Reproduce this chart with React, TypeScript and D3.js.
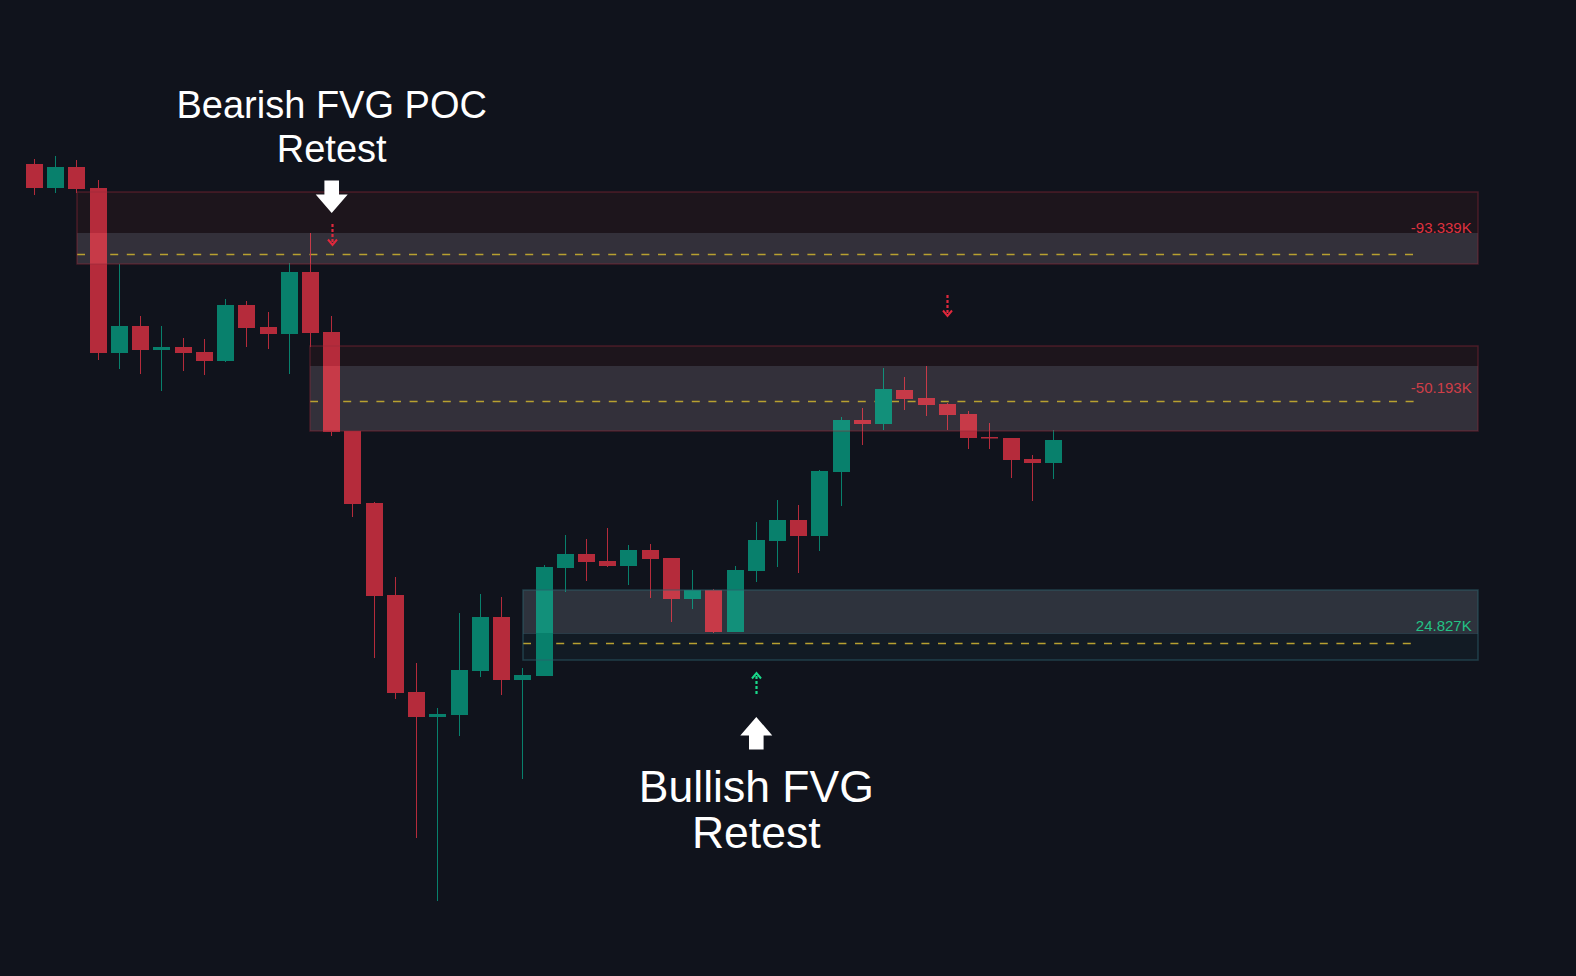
import React from 'react';
import * as d3 from 'd3';

// OHLC values (price units), one per candle
const opens = [836, 812, 833, 812, 647, 674, 650, 653, 648, 639, 695, 673, 666, 728, 668, 569, 497, 405, 308, 283, 285, 329, 383, 320, 324, 432, 446, 439, 434, 450, 442, 401, 410, 368, 429, 459, 480, 464, 528, 580, 576, 610, 602, 596, 586, 563, 562, 541, 537];
const highs = [841, 844, 840, 820, 736, 684, 674, 662, 661, 701, 699, 688, 737, 767, 684, 569, 498, 423, 337, 292, 387, 406, 403, 332, 435, 465, 461, 472, 455, 456, 442, 430, 411, 434, 478, 500, 495, 530, 583, 592, 632, 623, 634, 597, 589, 577, 562, 545, 570];
const lows = [805, 807, 807, 640, 631, 626, 609, 629, 625, 638, 653, 651, 626, 653, 564, 483, 342, 301, 162, 99, 264, 323, 305, 221, 324, 408, 419, 433, 415, 402, 378, 391, 367, 368, 418, 433, 427, 449, 494, 555, 570, 590, 584, 570, 551, 551, 522, 499, 521];
const closes = [812, 833, 811, 647, 674, 650, 653, 647, 639, 695, 672, 666, 728, 667, 568, 496, 404, 307, 283, 286, 330, 383, 320, 325, 433, 446, 438, 434, 450, 441, 401, 410, 368, 430, 460, 480, 464, 529, 580, 576, 611, 601, 595, 585, 562, 562, 540, 537, 560];

// FVG zones
const zoneTypes = ['bear', 'bear', 'bull'];
const zoneStarts = [2, 13, 23];
const zoneTops = [808, 654, 410];
const zoneBottoms = [736, 569, 340];
const zoneInnerTops = [767, 634, 410];
const zoneInnerBottoms = [736, 569, 367];
const zonePocs = [746, 599, 357];
const zoneLabels = ['-93.339K', '-50.193K', '24.827K'];
const zoneLabelPrices = [767, 607, 369];
const zoneEnd = 68;
const pocEnd = 65;
const labelIndex = 67.7;

// small dotted markers
const markerIdx = [14, 43, 34];
const markerTip = [755, 684, 327];
const markerDir = ['down', 'down', 'up'];

// annotations
const annoLines = [['Bearish FVG POC', 'Retest'], ['Bullish FVG', 'Retest']];
const annoIdx = [14, 34];
const annoArrowTip = [787, 283];
const annoDir = ['down', 'up'];
const annoBaselines = [[882, 838], [198, 152]];

const W = 1576;
const H = 976;
const BG = '#10131c';
const RED = '#b52b3b';
const GREEN = '#08806c';
const RED_HI = '#c73a48';
const GREEN_HI = '#12907a';

export default function App() {
  const x = d3.scaleLinear().domain([0, 48]).range([34.5, 1053.5]);
  const y = d3.scaleLinear().domain([0, 1000]).range([1000, 0]);
  const bodyW = 17;

  const drawCandles = (hi: boolean) =>
    opens.map((o, i) => {
      const c = closes[i];
      const up = c >= o;
      const col = up ? (hi ? GREEN_HI : GREEN) : hi ? RED_HI : RED;
      const bx = Math.round(x(i) - bodyW / 2);
      const cx = bx + 8.5;
      const yt = y(Math.max(o, c));
      const yb = y(Math.min(o, c));
      return (
        <g key={i}>
          <line x1={cx} x2={cx} y1={y(highs[i])} y2={y(lows[i])} stroke={col} strokeWidth={1} />
          <rect x={bx} y={yt} width={bodyW} height={Math.max(1.5, yb - yt)} fill={col} />
        </g>
      );
    });

  const zx0 = (k: number) => Math.round(x(zoneStarts[k]));
  const zx1 = Math.round(x(zoneEnd));

  const zones = zoneTypes.map((t, k) => {
    const x0 = zx0(k);
    const bear = t === 'bear';
    const outerFill = bear ? '#1d151c' : '#121b24';
    const innerFill = bear ? '#33303a' : '#2e333d';
    return (
      <g key={'z' + k}>
        <rect x={x0} y={y(zoneTops[k])} width={zx1 - x0} height={y(zoneBottoms[k]) - y(zoneTops[k])} fill={outerFill} />
        <rect x={x0} y={y(zoneInnerTops[k])} width={zx1 - x0} height={y(zoneInnerBottoms[k]) - y(zoneInnerTops[k])} fill={innerFill} />
        {!bear && (
          <line x1={x0} x2={zx1} y1={y(zoneInnerBottoms[k]) + 0.5} y2={y(zoneInnerBottoms[k]) + 0.5} stroke="rgba(70,100,115,0.45)" strokeWidth={1} />
        )}
      </g>
    );
  });

  const zoneBorders = zoneTypes.map((t, k) => {
    const x0 = zx0(k);
    const stroke = t === 'bear' ? 'rgba(150,40,58,0.4)' : 'rgba(45,95,108,0.55)';
    return (
      <rect key={'b' + k} x={x0} y={y(zoneTops[k])} width={zx1 - x0} height={y(zoneBottoms[k]) - y(zoneTops[k])}
        fill="none" stroke={stroke} strokeWidth={1.5} />
    );
  });

  const pocs = zoneTypes.map((t, k) => (
    <line key={'p' + k} x1={zx0(k)} x2={x(pocEnd)} y1={y(zonePocs[k]) + 0.5} y2={y(zonePocs[k]) + 0.5}
      stroke="#b8a030" strokeWidth={1.3} strokeDasharray="8,8.6" />
  ));

  const clips = zoneTypes.map((t, k) => (
    <clipPath id={'zc' + k} key={'c' + k}>
      <rect x={zx0(k)} y={y(zoneInnerTops[k])} width={zx1 - zx0(k)} height={y(zoneInnerBottoms[k]) - y(zoneInnerTops[k])} />
    </clipPath>
  ));

  const labels = zoneTypes.map((t, k) => (
    <text key={'l' + k} x={x(labelIndex)} y={y(zoneLabelPrices[k])} textAnchor="end"
      fontFamily="'Liberation Sans', Arial, sans-serif" fontSize={15}
      fill={t === 'bull' ? '#23c285' : k === 0 ? '#df313f' : '#cf3e48'}>{zoneLabels[k]}</text>
  ));

  const markers = markerIdx.map((mi, k) => {
    const cx = Math.round(x(mi)) + 0.5;
    const tip = y(markerTip[k]);
    const down = markerDir[k] === 'down';
    const col = down ? '#e0283c' : '#19d98a';
    const s = down ? -1 : 1;
    return (
      <g key={'m' + k} fill="none" stroke={col} strokeWidth={2.2}>
        <line x1={cx} x2={cx} y1={tip + s * 3} y2={tip + s * 21} strokeDasharray="3,2" />
        <polyline points={`${cx - 4.5},${tip + s * 5.5} ${cx},${tip} ${cx + 4.5},${tip + s * 5.5}`} strokeWidth={2} />
      </g>
    );
  });

  const annos = annoLines.map((lines, k) => {
    const cx = x(annoIdx[k]);
    const tip = y(annoArrowTip[k]);
    const down = annoDir[k] === 'down';
    const s = down ? -1 : 1;
    const hw = 16, sw = 7.3, hh = 18.5, sh = 14;
    const pts = [
      [cx, tip], [cx + hw, tip + s * hh], [cx + sw, tip + s * hh], [cx + sw, tip + s * (hh + sh)],
      [cx - sw, tip + s * (hh + sh)], [cx - sw, tip + s * hh], [cx - hw, tip + s * hh],
    ].map((p) => p.join(',')).join(' ');
    const fs = k === 0 ? 38 : 44.5;
    return (
      <g key={'a' + k}>
        <polygon points={pts} fill="#ffffff" />
        {lines.map((ln, j) => (
          <text key={j} x={cx} y={y(annoBaselines[k][j])} textAnchor="middle" fill="#ffffff"
            fontFamily="'Liberation Sans', Arial, sans-serif" fontSize={fs}>{ln}</text>
        ))}
      </g>
    );
  });

  return (
    <svg width={W} height={H} style={{ position: 'absolute', left: 0, top: 0, display: 'block' }}>
      <defs>{clips}</defs>
      <rect x={0} y={0} width={W} height={H} fill={BG} />
      {zones}
      {pocs}
      {drawCandles(false)}
      {zoneTypes.map((t, k) => (
        <g key={'h' + k} clipPath={`url(#zc${k})`}>{drawCandles(true)}</g>
      ))}
      {zoneBorders}
      {labels}
      {markers}
      {annos}
    </svg>
  );
}
